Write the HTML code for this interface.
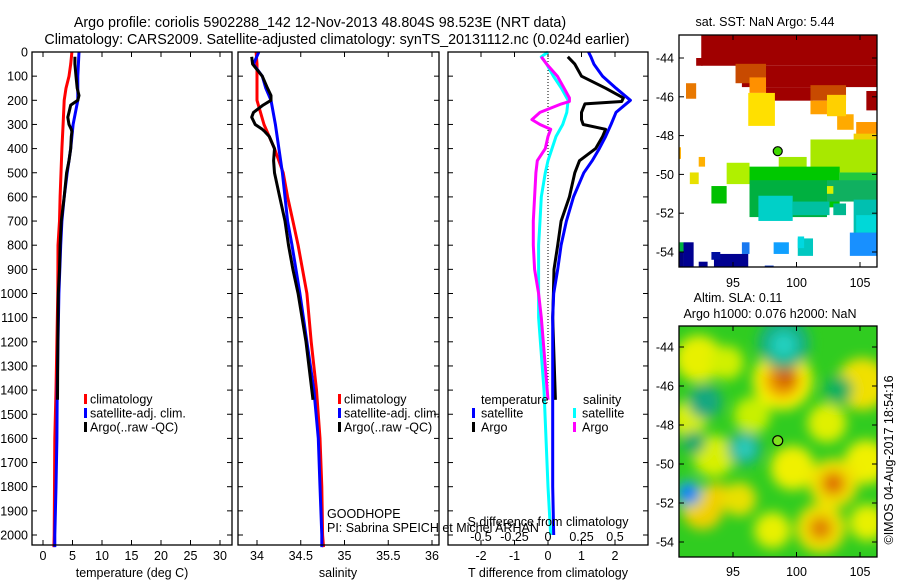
<!DOCTYPE html>
<html><head><meta charset="utf-8"><style>
html,body{margin:0;padding:0;background:#fff;}
svg{display:block;font-family:"Liberation Sans",sans-serif;}
text{fill:#000;}
</style></head><body>
<svg id="fig" width="900" height="580" viewBox="0 0 900 580" xmlns="http://www.w3.org/2000/svg">
<defs>
<filter id="blur" x="-20%" y="-20%" width="140%" height="140%"><feGaussianBlur stdDeviation="6"/></filter>
<clipPath id="clipSLA"><rect x="679" y="326" width="198" height="231"/></clipPath>
<clipPath id="clipSST"><rect x="679" y="35" width="198" height="232"/></clipPath>
</defs>
<text x="320" y="27" font-size="14.3" text-anchor="middle">Argo profile: coriolis 5902288_142 12-Nov-2013 48.804S 98.523E (NRT data)</text>
<text x="337" y="44" font-size="14.3" text-anchor="middle">Climatology: CARS2009. Satellite-adjusted climatology: synTS_20131112.nc (0.024d earlier)</text>
<g id="g"></g>
</svg>
<script>
// ---------- data ----------
const depthTicks=[0,100,200,300,400,500,600,700,800,900,1000,1100,1200,1300,1400,1500,1600,1700,1800,1900,2000];
const tTicks=[0,5,10,15,20,25,30];
const sTicks=[34,34.5,35,35.5,36];
const dTTicks=[-2,-1,0,1,2];
const dSTicks=[-0.5,-0.25,0,0.25,0.5];
const dSTickLabels=["-0.5","-0.25","0","0.25","0.5"];
const lonTicks=[95,100,105];
const latTicks=[-44,-46,-48,-50,-52,-54];

const climP=[0,50,100,150,200,300,400,500,600,700,800,1000,1200,1400,1600,1800,2000,2050];
const tClim=[4.9,4.7,4.4,3.9,3.6,3.4,3.2,3.05,2.9,2.8,2.55,2.5,2.35,2.2,2.0,1.95,1.9,1.85];
const tSat =[6.1,6.0,5.9,5.9,5.9,5.1,4.7,4.1,3.6,3.2,3.0,2.7,2.55,2.4,2.35,2.2,2.0,2.0];
const sClim=[33.99,34.0,34.0,34.0,34.0,34.08,34.2,34.3,34.35,34.41,34.47,34.57,34.62,34.68,34.72,34.74,34.75,34.76];
const sSat =[34.02,33.96,34.06,34.1,34.16,34.21,34.25,34.29,34.32,34.35,34.4,34.49,34.57,34.65,34.7,34.72,34.74,34.74];

const argoP=[20,50,100,150,180,200,220,250,270,300,320,330,350,400,450,500,600,700,800,900,1000,1200,1440];
const tArgo=[5.4,5.4,5.6,5.8,6.1,5.9,4.7,4.4,4.2,4.4,4.8,4.9,4.8,4.7,4.4,4.0,3.6,3.1,2.9,2.8,2.6,2.5,2.45];
const sArgo=[33.94,33.95,34.06,34.12,34.16,34.16,34.07,33.96,33.94,33.98,34.06,34.09,34.14,34.2,34.19,34.2,34.26,34.32,34.36,34.41,34.47,34.56,34.64];

const dP=[0,20,50,100,150,200,250,300,350,400,450,500,600,700,800,900,1000,1100,1400,1800,2000];
const dTSat=[1.21,1.28,1.37,1.63,2.03,2.46,2.03,1.88,1.72,1.53,1.32,1.07,0.76,0.55,0.39,0.29,0.17,0.14,0.14,0.14,0.17];
const dSSat=[0,-0.05,-0.01,0.04,0.1,0.15,0.14,0.11,0.06,0.03,0,-0.02,-0.05,-0.06,-0.07,-0.07,-0.07,-0.07,-0.03,0,0.02];
const dAP=[20,50,100,150,190,205,215,250,280,300,320,350,400,450,500,600,700,800,900,1000,1100,1440];
const dTArgo=[0.59,0.8,1.0,1.72,2.25,2.2,1.1,1.0,1.0,1.05,1.72,1.63,1.42,0.94,0.8,0.64,0.39,0.29,0.18,0.16,0.14,0.22];
const dSArgo=[-0.05,-0.01,0.07,0.12,0.16,0.16,0.1,-0.06,-0.12,-0.06,0.02,0,-0.02,-0.08,-0.09,-0.1,-0.11,-0.11,-0.1,-0.07,-0.05,0];

// SST patches: [lon0, lon1, lat0(north), lat1(south), color]
const sstPatches=[
[92.5,106.4,-42.8,-44.4,"#a00000"],[92.1,92.6,-44.0,-44.4,"#a00000"],
[95.7,106.4,-44.4,-45.5,"#a00000"],[97.6,101.3,-45.5,-46.2,"#a00000"],[105.5,106.4,-45.7,-46.7,"#a00000"],
[95.2,97.6,-44.3,-45.3,"#c84a00"],[101.1,103.9,-45.4,-46.2,"#c84a00"],
[96.3,97.6,-45.0,-45.8,"#ff9000"],[91.3,92.1,-45.3,-46.1,"#e87800"],[101.1,102.4,-46.2,-46.9,"#ffa000"],
[103.2,104.5,-46.9,-47.7,"#ffaa00"],[104.7,106.4,-47.3,-48.2,"#ff9a00"],[92.3,92.8,-49.1,-49.6,"#ffb000"],
[96.2,98.3,-45.8,-47.5,"#ffe000"],[102.4,103.9,-45.9,-47.0,"#ffd000"],[91.6,92.3,-49.9,-50.5,"#e8e000"],
[104.5,106.4,-47.9,-48.7,"#f0d000"],[90.77,90.9,-48.6,-49.2,"#ffb000"],
[101.1,106.4,-48.2,-49.9,"#a8e800"],[94.5,96.3,-49.4,-50.5,"#b0f000"],[98.6,100.8,-49.1,-50.1,"#a0ea00"],
[96.3,103.4,-49.6,-51.7,"#00c800"],[93.3,94.5,-50.6,-51.5,"#00c000"],[103.4,106.4,-49.9,-50.6,"#20c840"],
[96.3,102.4,-50.3,-52.2,"#00b040"],[102.4,106.4,-50.3,-51.4,"#10b060"],[102.4,102.9,-50.6,-51.0,"#d8f000"],
[97.0,99.7,-51.1,-52.4,"#00d0c8"],[99.7,102.6,-51.4,-52.1,"#00c0a0"],[102.9,103.9,-51.5,-52.1,"#00b890"],
[104.5,106.4,-51.3,-53.3,"#00c0b0"],[104.7,106.4,-52.1,-53.0,"#00d8d8"],
[104.2,106.4,-53.0,-54.2,"#1890ff"],[95.7,96.3,-53.5,-54.1,"#1878f0"],[98.2,99.4,-53.5,-54.1,"#10a0ff"],
[100.1,101.3,-53.3,-54.2,"#00c8c0"],[100.1,100.6,-53.2,-53.8,"#00d8e0"],
[91.1,91.9,-53.5,-54.8,"#000090"],[90.77,91.1,-54.0,-54.8,"#000080"],[92.3,93.0,-54.5,-54.8,"#000090"],
[93.5,96.2,-54.1,-54.8,"#000090"],[93.3,94.0,-54.0,-54.4,"#0010a0"],[97.5,98.2,-54.7,-54.8,"#0030c0"],
[90.77,91.1,-53.5,-54.0,"#00b040"]
];
// SLA blobs: [lon, lat, radiusDeg, color]
const slaBlobs=[
[92.3,-44.6,1.8,"#e8f000"],[91.5,-47.7,1.4,"#d8f000"],[94.5,-44.8,1.3,"#d0f000"],
[98.9,-45.7,2.3,"#f8f000"],[98.9,-45.7,1.4,"#f0a000"],[99.1,-45.6,0.8,"#d06000"],
[105.2,-45.9,2.0,"#f0e000"],[105.5,-49.9,1.7,"#f0f000"],[102.4,-47.9,1.5,"#e0f000"],
[99.7,-50.2,1.7,"#f0f000"],[102.9,-51.0,1.9,"#f0e000"],[102.9,-51.0,0.9,"#e07000"],
[101.9,-53.3,1.9,"#f0e000"],[101.9,-53.3,0.9,"#e08000"],[92.6,-52.3,1.6,"#f0d000"],
[93.7,-51.7,1.1,"#f0d000"],[95.5,-51.8,1.3,"#e8e000"],[98.1,-53.4,1.4,"#e8f000"],
[105.6,-53.0,1.4,"#e8f000"],[96.5,-47.5,1.4,"#c8f000"],[93.5,-49.6,1.6,"#d8f000"],
[99.0,-43.8,2.0,"#18b080"],[99.0,-43.9,1.0,"#20d0c0"],[92.8,-46.8,1.3,"#18a880"],
[95.9,-49.2,1.3,"#18b090"],[95.9,-49.2,0.7,"#30d0c0"],[91.9,-48.9,0.9,"#10a870"],
[103.3,-46.2,1.1,"#10b060"],[91.5,-51.5,1.0,"#20b0e0"],[91.5,-51.5,0.5,"#0050ff"]
];
const argoLon=98.523, argoLat=-48.804;

// ---------- helpers ----------
const NS="http://www.w3.org/2000/svg";
const G=document.getElementById('g');
function mk(tag,attrs,parent){const e=document.createElementNS(NS,tag);for(const k in attrs)e.setAttribute(k,attrs[k]);(parent||G).appendChild(e);return e;}
const Y0=52, Y1=535;
function yP(p){return Y0+(Y1-Y0)*p/2000;}
function xT(t){return 43+t*(220-43)/30;}
function xS(s){return 257+(s-34)*(432-257)/2;}
function xDT(d){return 548+d*(614-480)/4;}
function xDS(d){return xDT(d*4);}
function lonX(l){return 733+(l-95)*(860-733)/10;}
function latY1(l){return 58+(-44-l)*(252-58)/10;}
function latY2(l){return 347+(-44-l)*(542-347)/10;}

function profile(xs,ps,xf,color,name){
  let pts=[];
  for(let i=0;i<xs.length;i++){pts.push(xf(xs[i]).toFixed(1)+","+yP(ps[i]).toFixed(1));}
  const e=mk('polyline',{points:pts.join(' '),fill:'none',stroke:color,'stroke-width':3,'stroke-linejoin':'round'});
  
  
}
function txt(x,y,s,attrs,name){const e=mk('text',Object.assign({x:x,y:y,'font-size':12.5},attrs||{}));e.textContent=s;
  
  return e;}
function frame(x0,x1,y0,y1,name){const e=mk('rect',{x:x0,y:y0,width:x1-x0,height:y1-y0,fill:'none',stroke:'#000','stroke-width':1.3});
  
  }
function tick(x1,y1,x2,y2){mk('line',{x1:x1,y1:y1,x2:x2,y2:y2,stroke:'#000','stroke-width':1});}

const PB=545;
// ---------- panel 1: temperature ----------
const P1=[32,232];
depthTicks.forEach(p=>{const y=yP(p);tick(P1[0],y,P1[0]+5,y);tick(P1[1],y,P1[1]-5,y);
  txt(28,y+4.5,String(p),{'text-anchor':'end'},'depth-tick-label');});
tTicks.forEach(t=>{const x=xT(t);tick(x,PB,x,PB-5);tick(x,Y0,x,Y0+5);txt(x,560,String(t),{'text-anchor':'middle'},'temperature-tick-label');});
profile(tClim,climP,xT,'#ff0000','temperature-climatology-line');
profile(tSat,climP,xT,'#0000ff','temperature-satellite-line');
profile(tArgo,argoP,xT,'#000000','temperature-argo-line');
frame(P1[0],P1[1],Y0,PB,'temperature-panel');
txt(132,577,'temperature (deg C)',{'text-anchor':'middle'},'temperature-axis-title');
function legend(x,y,items){items.forEach((it,i)=>{const r=mk('rect',{x:x,y:y+i*14-5,width:3,height:10,fill:it[1]});
  
  
  txt(x+6,y+i*14+4.5,it[0],{},'legend-entry');});}
legend(84,399,[['climatology','#ff0000'],['satellite-adj. clim.','#0000ff'],['Argo(..raw -QC)','#000000']]);

// ---------- panel 2: salinity ----------
const P2=[238,439];
depthTicks.forEach(p=>{const y=yP(p);tick(P2[0],y,P2[0]+5,y);tick(P2[1],y,P2[1]-5,y);});
sTicks.forEach(s=>{const x=xS(s);tick(x,PB,x,PB-5);tick(x,Y0,x,Y0+5);txt(x,560,String(s),{'text-anchor':'middle'},'salinity-tick-label');});
profile(sClim,climP,xS,'#ff0000','salinity-climatology-line');
profile(sSat,climP,xS,'#0000ff','salinity-satellite-line');
profile(sArgo,argoP,xS,'#000000','salinity-argo-line');
frame(P2[0],P2[1],Y0,PB,'salinity-panel');
txt(338,577,'salinity',{'text-anchor':'middle'},'salinity-axis-title');
legend(338,399,[['climatology','#ff0000'],['satellite-adj. clim.','#0000ff'],['Argo(..raw -QC)','#000000']]);
txt(327,518,'GOODHOPE',{},'project-label');
txt(327,532,'PI: Sabrina SPEICH et Michel ARHAN',{},'pi-label');

// ---------- panel 3: differences ----------
const P3=[448,648];
depthTicks.forEach(p=>{const y=yP(p);tick(P3[0],y,P3[0]+5,y);tick(P3[1],y,P3[1]-5,y);});
dTTicks.forEach(d=>{const x=xDT(d);tick(x,PB,x,PB-5);tick(x,Y0,x,Y0+5);txt(x,560,String(d),{'text-anchor':'middle'},'t-diff-tick-label');});
const zl=mk('line',{x1:xDT(0),y1:Y0,x2:xDT(0),y2:yP(1440),stroke:'#000','stroke-width':1,'stroke-dasharray':'1,2'});


profile(dSSat,dP,xDS,'#00ffff','s-diff-satellite-line');
profile(dSArgo,dAP,xDS,'#ff00ff','s-diff-argo-line');
profile(dTArgo,dAP,xDT,'#000000','t-diff-argo-line');
profile(dTSat,dP,xDT,'#0000ff','t-diff-satellite-line');
frame(P3[0],P3[1],Y0,PB,'difference-panel');
txt(548,577,'T difference from climatology',{'text-anchor':'middle'},'t-diff-axis-title');
txt(548,526,'S difference from climatology',{'text-anchor':'middle'},'s-diff-axis-title');
dSTicks.forEach((d,i)=>{txt(xDS(d),541,dSTickLabels[i],{'text-anchor':'middle'},'s-diff-tick-label');});
txt(481,404,'temperature',{},'legend-title-temperature');
txt(583,404,'salinity',{},'legend-title-salinity');
[['satellite','#0000ff',472],['Argo','#000000',472],['satellite','#00ffff',573],['Argo','#ff00ff',573]].forEach((it,i)=>{
  const y=413+(i%2)*14;const r=mk('rect',{x:it[2],y:y-5,width:3,height:10,fill:it[1]});
  
  
  txt(it[2]+9,y+4.5,it[0],{},'legend-entry');});

// ---------- SST map ----------
txt(765,26,'sat. SST: NaN Argo: 5.44',{'text-anchor':'middle'},'sst-map-title');
const sg=mk('g',{'clip-path':'url(#clipSST)'});


sstPatches.forEach(p=>{const x0=lonX(p[0]),x1=lonX(p[1]),y0=latY1(p[2]),y1=latY1(p[3]);
  const r=mk('rect',{x:x0,y:y0,width:x1-x0,height:y1-y0,fill:p[4]},sg);
  
  });
const d1=mk('circle',{cx:lonX(argoLon),cy:latY1(argoLat),r:4.5,fill:'#40d800',stroke:'#000','stroke-width':1.2});


frame(679,877,35,267,'sst-map-frame');
latTicks.forEach(l=>{const y=latY1(l);tick(679,y,684,y);tick(877,y,872,y);txt(674,y+4.5,String(l),{'text-anchor':'end'},'lat-tick-label');});
lonTicks.forEach(l=>{const x=lonX(l);tick(x,267,x,262);tick(x,35,x,40);txt(x,287,String(l),{'text-anchor':'middle'},'lon-tick-label');});

// ---------- SLA map ----------
txt(738,302,'Altim. SLA: 0.11',{'text-anchor':'middle'},'sla-map-title');
txt(770,318,'Argo h1000: 0.076 h2000: NaN',{'text-anchor':'middle'},'sla-map-subtitle');
const lg=mk('g',{'clip-path':'url(#clipSLA)'});


mk('rect',{x:679,y:326,width:198,height:231,fill:'#30cc20'},lg);
const bg=mk('g',{filter:'url(#blur)'},lg);
slaBlobs.forEach(b=>{const c=mk('circle',{cx:lonX(b[0]),cy:latY2(b[1]),r:b[2]*13,fill:b[3]},bg);
  
  });
const d2=mk('circle',{cx:lonX(argoLon),cy:latY2(argoLat),r:5,fill:'#80e020',stroke:'#000','stroke-width':1.2});


frame(679,877,326,557,'sla-map-frame');
latTicks.forEach(l=>{const y=latY2(l);tick(679,y,684,y);tick(877,y,872,y);txt(674,y+4.5,String(l),{'text-anchor':'end'},'lat-tick-label');});
lonTicks.forEach(l=>{const x=lonX(l);tick(x,557,x,552);tick(x,326,x,331);txt(x,576,String(l),{'text-anchor':'middle'},'lon-tick-label');});
const cr=txt(0,0,'©IMOS 04-Aug-2017 18:54:16',{'text-anchor':'middle',transform:'translate(893,460) rotate(-90)'},'copyright-timestamp');
</script>
</body></html>
